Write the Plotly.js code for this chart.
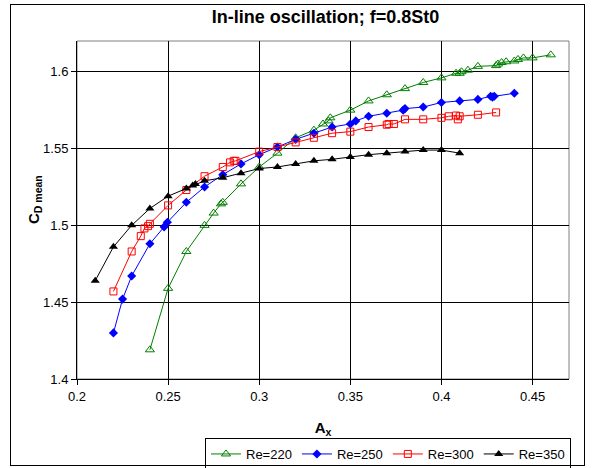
<!DOCTYPE html>
<html>
<head>
<meta charset="utf-8">
<script src="https://cdn.plot.ly/plotly-3.0.1.min.js"></script>
<style>
html,body{margin:0;padding:0;background:#fff;}
#wrap{position:relative;width:594px;height:468px;}
#chart{width:594px;height:468px;}
#frame{position:absolute;left:10px;top:4px;width:575px;height:462px;border:1.5px solid #000;pointer-events:none;box-sizing:border-box;}
</style>
</head>
<body>
<div id="wrap"><div id="chart"></div><div id="frame"></div></div>
<script>
const seriesNames = ["Re=220", "Re=250", "Re=300", "Re=350"];

const re220_x = [0.24, 0.25, 0.26, 0.27, 0.275, 0.279, 0.28, 0.29, 0.30, 0.31, 0.32, 0.33, 0.335, 0.338, 0.339, 0.35, 0.36, 0.37, 0.38, 0.39, 0.40, 0.408, 0.41, 0.411, 0.4145, 0.42, 0.43, 0.431, 0.433, 0.4355, 0.44, 0.442, 0.445, 0.45, 0.46];
const re220_y = [1.419, 1.459, 1.483, 1.500, 1.508, 1.514, 1.515, 1.527, 1.538, 1.547, 1.557, 1.562, 1.566, 1.568, 1.570, 1.575, 1.581, 1.585, 1.589, 1.593, 1.596, 1.599, 1.599, 1.600, 1.601, 1.6035, 1.604, 1.605, 1.606, 1.6065, 1.607, 1.608, 1.609, 1.609, 1.611];

const re250_x = [0.22, 0.225, 0.23, 0.24, 0.2478, 0.2496, 0.26, 0.27, 0.28, 0.29, 0.30, 0.31, 0.32, 0.33, 0.34, 0.35, 0.353, 0.36, 0.37, 0.379, 0.38, 0.39, 0.40, 0.41, 0.42, 0.427, 0.428, 0.429, 0.44];
const re250_y = [1.430, 1.452, 1.467, 1.488, 1.499, 1.502, 1.515, 1.525, 1.533, 1.540, 1.546, 1.551, 1.556, 1.560, 1.564, 1.566, 1.568, 1.571, 1.573, 1.575, 1.576, 1.577, 1.580, 1.581, 1.582, 1.584, 1.5835, 1.584, 1.586];

const re300_x = [0.22, 0.23, 0.235, 0.237, 0.239, 0.24, 0.25, 0.26, 0.27, 0.28, 0.284, 0.286, 0.287, 0.30, 0.31, 0.32, 0.33, 0.34, 0.35, 0.36, 0.37, 0.371, 0.374, 0.38, 0.39, 0.40, 0.404, 0.408, 0.409, 0.41, 0.42, 0.43];
const re300_y = [1.457, 1.483, 1.493, 1.498, 1.4995, 1.501, 1.513, 1.523, 1.532, 1.538, 1.541, 1.542, 1.542, 1.548, 1.551, 1.554, 1.557, 1.560, 1.561, 1.564, 1.5655, 1.566, 1.566, 1.569, 1.569, 1.570, 1.571, 1.5715, 1.569, 1.571, 1.572, 1.5735];

const re350_x = [0.21, 0.22, 0.23, 0.24, 0.25, 0.26, 0.2635, 0.265, 0.27, 0.28, 0.29, 0.30, 0.31, 0.32, 0.33, 0.34, 0.35, 0.36, 0.37, 0.38, 0.39, 0.40, 0.41];
const re350_y = [1.464, 1.486, 1.500, 1.511, 1.519, 1.524, 1.526, 1.527, 1.529, 1.531, 1.534, 1.537, 1.538, 1.540, 1.542, 1.543, 1.5445, 1.546, 1.547, 1.548, 1.549, 1.549, 1.547];

const xTicks = [0.2, 0.25, 0.3, 0.35, 0.4, 0.45];
const yTicks = [1.4, 1.45, 1.5, 1.55, 1.6];

const FONT = "Liberation Sans, Arial, sans-serif";

const traces = [
  {x: re220_x, y: re220_y, name: seriesNames[0], mode: "lines+markers",
   line: {color: "#008000", width: 1},
   marker: {symbol: "triangle-up-open", size: 8, color: "#008000", line: {width: 1, color: "#008000"}}},
  {x: re250_x, y: re250_y, name: seriesNames[1], mode: "lines+markers",
   line: {color: "#0000FF", width: 1},
   marker: {symbol: "diamond", size: 7, color: "#0000FF"}},
  {x: re300_x, y: re300_y, name: seriesNames[2], mode: "lines+markers",
   line: {color: "#FF0000", width: 1},
   marker: {symbol: "square-open", size: 7, color: "#FF0000", line: {width: 1, color: "#FF0000"}}},
  {x: re350_x, y: re350_y, name: seriesNames[3], mode: "lines+markers",
   line: {color: "#000000", width: 1},
   marker: {symbol: "triangle-up", size: 8, color: "#000000"}}
];

const layout = {
  width: 594, height: 468,
  margin: {l: 77, r: 25, t: 41, b: 89, autoexpand: false},
  paper_bgcolor: "#ffffff", plot_bgcolor: "#ffffff",
  font: {family: FONT, size: 13, color: "#000"},
  title: {text: "<b>In-line oscillation; f=0.8St0</b>", font: {family: FONT, size: 18, color: "#000"},
          x: 0.505, xref: "paper", xanchor: "center", y: 1 - 17/468, yanchor: "middle", yref: "container"},
  xaxis: {
    range: [0.2, 0.47], tickvals: xTicks, ticktext: xTicks.map(String),
    showgrid: true, gridcolor: "#000", gridwidth: 1, zeroline: false,
    showline: true, linecolor: "#000", linewidth: 1,
    ticks: "outside", ticklen: 5, tickcolor: "#000",
    tickfont: {family: FONT, size: 13},
    title: {text: "<b>A<sub>x</sub></b>", font: {family: FONT, size: 15}, standoff: 19}
  },
  yaxis: {
    range: [1.4, 1.62], tickvals: yTicks, ticktext: yTicks.map(String),
    showgrid: true, gridcolor: "#000", gridwidth: 1, zeroline: false,
    showline: true, linecolor: "#000", linewidth: 1,
    ticks: "outside", ticklen: 5, tickcolor: "#000",
    tickfont: {family: FONT, size: 13}
  },
  annotations: [
    {text: "<b>C<sub>D mean</sub></b>", xref: "paper", yref: "paper",
     x: (34 - 77) / 492, y: (379 - 200) / 338, textangle: -90, showarrow: false,
     xanchor: "center", yanchor: "middle", font: {family: FONT, size: 15, color: "#000"}}
  ],
  shapes: [
    {type: "rect", xref: "paper", yref: "paper", x0: 0, x1: 1, y0: 0, y1: 1,
     line: {color: "#808080", width: 1}, layer: "below"}
  ],
  legend: {
    orientation: "h", x: (205 - 77) / 492, xanchor: "left", y: (379 - 438) / 338, yanchor: "top",
    bordercolor: "#000", borderwidth: 1, bgcolor: "#fff",
    font: {family: FONT, size: 13, color: "#000"}, itemwidth: 30, tracegroupgap: 0
  },
  showlegend: true
};

Plotly.newPlot("chart", traces, layout, {displayModeBar: false, staticPlot: true});
</script>
</body>
</html>
